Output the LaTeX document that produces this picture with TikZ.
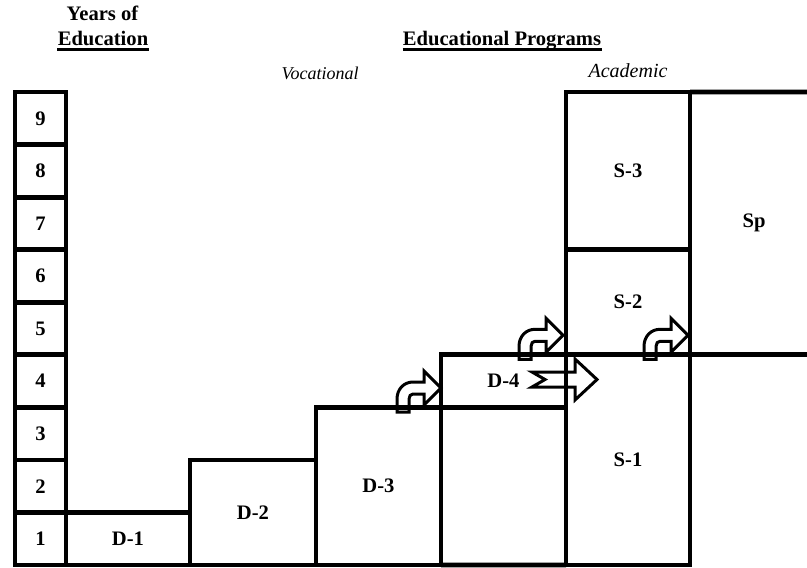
\documentclass[tikz,border=0pt]{standalone}
\usepackage{fontspec}
\setmainfont{Liberation Serif}
\usetikzlibrary{positioning}

\begin{document}
\begin{tikzpicture}[x=0.5pt, y=-0.5pt,
  cell/.style={rectangle, draw, line width=2.4pt, inner sep=0pt, outer sep=0pt,
               font=\fontsize{10.3}{12}\selectfont\bfseries},
  yearcell/.style={cell, minimum width=25.5pt, minimum height=26.28pt},
  tag/.style={font=\fontsize{10.3}{12}\selectfont\bfseries, inner sep=0pt},
  heading/.style={font=\fontsize{10.3}{12}\selectfont\bfseries, inner sep=0pt, anchor=base},
  track/.style={font=\fontsize{#1}{12}\selectfont\itshape, inner sep=0pt, anchor=base},
  headrule/.style={line width=1.5pt},
  gridline/.style={line width=2.4pt},
  blockarr/.style={draw, fill=white, line width=1.5pt, line join=miter},
  bentarr/.pic={
    \path[blockarr] (0,0) -- (0,-13) .. controls (0,-23) and (7,-30) .. (16,-30)
      -- (27,-30) -- (27,-41) -- (44,-24) -- (27,-7) -- (27,-18) -- (16,-18)
      .. controls (13.8,-18) and (12,-16) .. (12,-13) -- (12,0) -- cycle;
  },
]
\useasboundingbox (0,0) rectangle (807,567);

% ---- Headings ----
\node[heading] (yrs) at (102.5,21) {Years of};
\node[heading] (edu) at (103,46) {Education};
\draw[headrule] ([yshift=-2pt]edu.base west) -- ([yshift=-2pt]edu.base east);
\node[heading] (prog) at (502,46) {Educational Programs};
\draw[headrule] ([yshift=-2pt]prog.base west) -- ([yshift=-2pt]prog.base east);
\node[track=9] (voc) at (320,80) {Vocational};
\node[track=10] (acad) at (628,78) {Academic};

% ---- Block arrows (under the lines) ----
\pic at (397,412) {bentarr};
\pic at (519,359.3) {bentarr};
\pic at (644,359.3) {bentarr};
\path[blockarr] (532,372) -- (575,372) -- (575,359) -- (597,379.5) -- (575,400)
  -- (575,387) -- (532,387) -- (545,379.5) -- cycle;

% ---- Years column ----
\foreach \n in {1,...,9}
  \node[yearcell] (y\n) at (40.5,{565-52.55*(\n-0.5)}) {\n};

% ---- Vocational track ----
\node[cell, minimum width=62pt, minimum height=26.28pt] (d1) at (128,538.7) {D-1};
\node[cell, minimum width=63pt, minimum height=52.55pt] (d2) at (253,512.45) {D-2};
\node[cell, minimum width=62.5pt, minimum height=78.83pt] (d3) at (378.5,486.2) {D-3};
\node[cell, minimum width=62.5pt, minimum height=26.28pt] (d4) at (503.5,381.1) {D-4};

% ---- Academic track ----
\node[cell, minimum width=62pt, minimum height=105.1pt] (s1) at (628,459.9) {S-1};
\node[cell, minimum width=62pt, minimum height=52.55pt] (s2) at (628,302.25) {S-2};
\node[cell, minimum width=62pt, minimum height=78.83pt] (s3) at (628,170.9) {S-3};
\node[tag] (sp) at (754,223) {Sp};
\coordinate (sptop) at (807,92.05);
\coordinate (spbot) at (807,354.8);
\draw[gridline] (s3.north east) -- (sptop);
\draw[gridline] (s1.north east) -- (spbot);
\draw[gridline] (d3.south east) -- (s1.south west);

\end{tikzpicture}
\end{document}
